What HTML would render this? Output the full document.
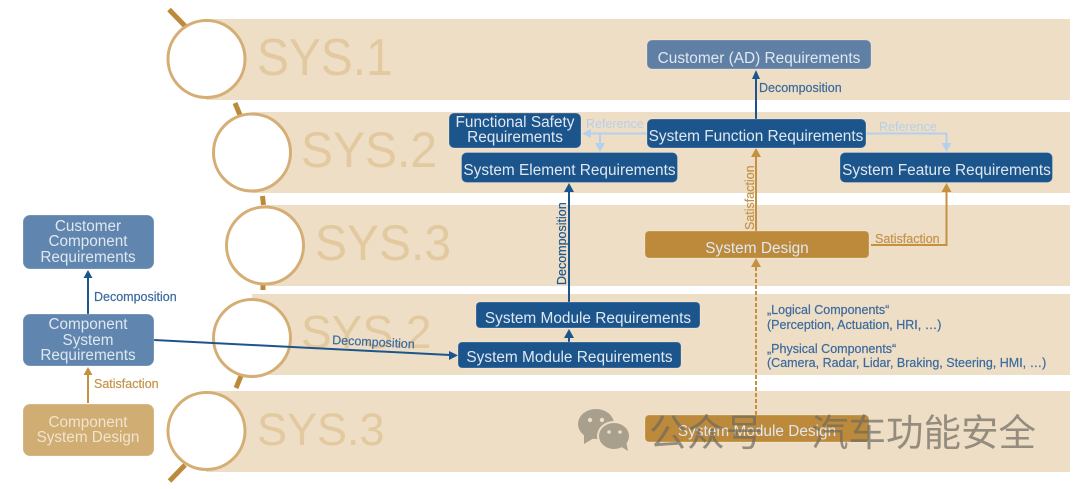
<!DOCTYPE html>
<html><head><meta charset="utf-8"><style>
html,body{margin:0;padding:0;background:#fff}
svg{display:block}
text{font-family:"Liberation Sans","Noto Sans CJK SC",sans-serif}
.box{fill-opacity:1;stroke:#fff;stroke-opacity:.25;stroke-width:1}
.t{fill:#dfe8f1;font-size:15.400px;text-anchor:middle}
.m{font-size:15.300px}
.l{font-size:12.500px;stroke-width:.2}
.sys{fill:#e3c99f}
.blue{fill:#3a6a9e;stroke:#3a6a9e}.gold{fill:#c4934a;stroke:#c4934a}.ref{fill:#b4d0ec}
</style></head><body>
<svg width="1080" height="489" viewBox="0 0 1080 489" xmlns="http://www.w3.org/2000/svg">
<defs>
<filter id="b" x="-5%" y="-5%" width="110%" height="110%"><feGaussianBlur stdDeviation="0.35"/></filter>
</defs>
<g filter="url(#b)">
<!-- bands -->
<g fill="#eedec5">
<rect x="206" y="19" width="864" height="81"/>
<rect x="252" y="112" width="818" height="81"/>
<rect x="265" y="205" width="805" height="81"/>
<rect x="252" y="294" width="818" height="81"/>
<rect x="206" y="391" width="864" height="81"/>
</g>
<!-- handles -->
<g stroke="#bd8a3a" stroke-width="5">
<line x1="169" y1="9.500" x2="185" y2="26"/>
<line x1="235" y1="103" x2="240" y2="115"/>
<line x1="262.500" y1="196" x2="263.500" y2="205"/>
<line x1="263" y1="285" x2="263" y2="290"/>
<line x1="241" y1="376" x2="236" y2="388"/>
<line x1="185" y1="465" x2="169.500" y2="481"/>
</g>
<!-- circles -->
<g fill="#fff" stroke="#d4ae74" stroke-width="3">
<circle cx="206.500" cy="59" r="38.500"/>
<circle cx="252" cy="152.500" r="38.500"/>
<circle cx="265" cy="245.500" r="38.500"/>
<circle cx="252" cy="338" r="38.500"/>
<circle cx="206.500" cy="431" r="38.500"/>
</g>
<!-- SYS labels -->
<text class="sys" transform="translate(257,75) scale(.92,1)" style="font-size:52px">SYS.1</text>
<text class="sys" transform="translate(301,167) scale(.96,1)" style="font-size:50px">SYS.2</text>
<text class="sys" transform="translate(315,260) scale(.96,1)" style="font-size:50px">SYS.3</text>
<text class="sys" x="301" y="348" style="font-size:46px">SYS.2</text>
<text class="sys" x="257" y="445" style="font-size:45px">SYS.3</text>

<!-- connectors: blue -->
<g stroke="#1f558c" stroke-width="2" fill="none">
<line x1="756" y1="119" x2="756" y2="78"/>
<line x1="569" y1="302" x2="569" y2="192"/>
<line x1="569" y1="342" x2="569" y2="336"/>
<line x1="88" y1="314" x2="88" y2="277"/>
<line x1="154" y1="340" x2="450" y2="355"/>
</g>
<g fill="#1f558c">
<polygon points="756,70 760,79 752,79"/>
<polygon points="569,183 574,192 564,192"/>
<polygon points="569,329 574,338 564,338"/>
<polygon points="88,270 92.500,278 83.500,278"/>
<polygon points="458,355.400 449,351 449,360"/>
</g>
<!-- connectors: reference -->
<g stroke="#b4d0ec" stroke-width="2" fill="none">
<line x1="647" y1="133.500" x2="590" y2="133.500"/>
<line x1="600" y1="133.500" x2="600" y2="145"/>
<polyline points="866,133.500 946.500,133.500 946.500,145"/>
</g>
<g fill="#b4d0ec">
<polygon points="582,133.500 591,129 591,138"/>
<polygon points="600,152 595,143 605,143"/>
<polygon points="946.500,152 941.500,143 951.500,143"/>
</g>
<!-- connectors: gold -->
<g stroke="#c4913f" stroke-width="2" fill="none">
<line x1="756" y1="231" x2="756" y2="156"/>
<polyline points="871,245 946.500,245 946.500,191"/>
<line x1="88" y1="403" x2="88" y2="374"/>
<line x1="756" y1="415" x2="756" y2="266" stroke-dasharray="4 2"/>
</g>
<g fill="#c4913f">
<polygon points="756,148 761,157 751,157"/>
<polygon points="946.500,183 951.500,192 941.500,192"/>
<polygon points="88,367 92.500,375 83.500,375"/>
<polygon points="756,258 761,267 751,267"/>
</g>

<!-- boxes -->
<g class="box">
<rect x="647" y="40" width="224" height="29" rx="5" fill="#5e7fa5"/>
<rect x="449" y="113" width="132" height="35" rx="5" fill="#1f558c"/>
<rect x="647" y="119" width="219" height="29" rx="5" fill="#1f558c"/>
<rect x="461.500" y="152.500" width="216" height="30" rx="5" fill="#1f558c"/>
<rect x="840" y="152.500" width="212.500" height="30" rx="5" fill="#1f558c"/>
<rect x="645" y="231" width="224" height="27" rx="4" fill="#bd8a3a"/>
<rect x="476" y="302" width="224" height="26" rx="4" fill="#1f558c"/>
<rect x="458" y="342" width="223" height="26" rx="4" fill="#1f558c"/>
<rect x="645" y="415" width="224" height="27" rx="4" fill="#bd8a3a"/>
<rect x="23" y="215" width="131" height="54" rx="7" fill="#6085ae"/>
<rect x="23" y="314" width="131" height="52" rx="7" fill="#6085ae"/>
<rect x="23" y="404" width="131" height="52" rx="7" fill="#d0ad72"/>
</g>
<!-- box labels -->
<text class="t" x="759" y="63">Customer (AD) Requirements</text>
<text class="t" x="515" y="127">Functional Safety</text>
<text class="t" x="515" y="142">Requirements</text>
<text class="t" x="756" y="141">System Function Requirements</text>
<text class="t" x="569.500" y="175">System Element Requirements</text>
<text class="t" x="946.500" y="175">System Feature Requirements</text>
<text class="t" x="757" y="253">System Design</text>
<text class="t" x="588" y="323">System Module Requirements</text>
<text class="t" x="569.500" y="362">System Module Requirements</text>
<text class="t" x="757" y="436">System Module Design</text>
<text class="t m" x="88" y="231">Customer</text>
<text class="t m" x="88" y="246">Component</text>
<text class="t m" x="88" y="262">Requirements</text>
<text class="t m" x="88" y="329">Component</text>
<text class="t m" x="88" y="345">System</text>
<text class="t m" x="88" y="360">Requirements</text>
<text class="t m" x="88" y="427" style="fill:#f0e4cf">Component</text>
<text class="t m" x="88" y="442" style="fill:#f0e4cf">System Design</text>

<!-- connector labels -->
<text class="l blue" x="94" y="301">Decomposition</text>
<text class="l gold" x="94" y="388">Satisfaction</text>
<text class="l blue" x="759" y="92">Decomposition</text>
<text class="l ref" x="586" y="128">Reference</text>
<text class="l ref" x="879" y="131">Reference</text>
<text class="l gold" x="875" y="243">Satisfaction</text>
<text class="l blue" transform="translate(332,344) rotate(3)">Decomposition</text>
<text class="l" fill="#1f558c" stroke="#1f558c" transform="translate(566,285) rotate(-90)">Decomposition</text>
<text class="l gold" transform="translate(754,230) rotate(-90)">Satisfaction</text>
<text class="l blue" x="767" y="314">„Logical Components“</text>
<text class="l blue" x="767" y="329">(Perception, Actuation, HRI, …)</text>
<text class="l blue" x="767" y="353">„Physical Components“</text>
<text class="l blue" x="767" y="367">(Camera, Radar, Lidar, Braking, Steering, HMI, …)</text>
</g>

<!-- watermark -->
<g>
<ellipse cx="596" cy="424" rx="18" ry="15" fill="#a89f8d"/>
<polygon points="584,434 584,444 594,438" fill="#a89f8d"/>
<ellipse cx="614" cy="436" rx="16" ry="14" fill="#a89f8d" stroke="#eedec5" stroke-width="2"/>
<polygon points="620,446 628,451 626,441" fill="#a89f8d"/>
<circle cx="590" cy="420" r="2.200" fill="#eedec5"/>
<circle cx="602" cy="420" r="2.200" fill="#eedec5"/>
<circle cx="609" cy="432" r="1.800" fill="#eedec5"/>
<circle cx="620" cy="432" r="1.800" fill="#eedec5"/>
<text x="649" y="446" style="font-size:38px;fill:#6e6a60;fill-opacity:.7">公众号</text>
<text x="811" y="446" style="font-size:37.500px;fill:#6e6a60;fill-opacity:.7">汽车功能安全</text>
</g>
</svg>
</body></html>
